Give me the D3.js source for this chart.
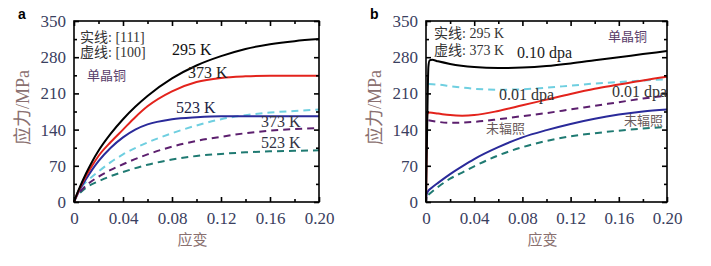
<!DOCTYPE html>
<html>
<head>
<meta charset="utf-8">
<script src="https://cdn.jsdelivr.net/npm/d3@7"></script>
<style>
body { margin: 0; background: #fff; }
</style>
</head>
<body>
<div id="chart-area"></div>
<script>
// strain values (x) and stress values (MPa)
// panel a
var a_black  = [[0,0],[0.0025,16],[0.005,30],[0.01,56],[0.015,79],[0.02,99],[0.03,132],[0.04,160],[0.05,184],[0.06,205],[0.08,239],[0.10,264],[0.12,282],[0.14,296],[0.16,305],[0.18,311],[0.20,315]];
var a_red    = [[0,0],[0.0025,15],[0.005,28],[0.01,51],[0.015,71],[0.02,89],[0.03,116],[0.04,140],[0.05,164],[0.06,185],[0.08,214],[0.10,232],[0.12,240],[0.14,243],[0.16,244],[0.18,244],[0.20,244]];
var a_blue   = [[0,0],[0.0025,13],[0.005,25],[0.01,45],[0.015,63],[0.02,79],[0.03,105],[0.04,125],[0.05,140],[0.06,150],[0.08,160],[0.10,164],[0.12,166],[0.14,166],[0.16,166],[0.18,166],[0.20,166]];
var a_cyan   = [[0.006,30],[0.01,39],[0.02,59],[0.03,77],[0.04,92],[0.06,115],[0.08,133],[0.10,148],[0.12,160],[0.14,168],[0.16,173],[0.18,176],[0.20,179]];
var a_purple = [[0.005,20],[0.01,32],[0.02,49],[0.03,62],[0.04,73],[0.06,92],[0.08,107],[0.10,118],[0.12,126],[0.14,133],[0.16,138],[0.18,141],[0.20,143]];
var a_teal   = [[0.005,18],[0.01,28],[0.02,40],[0.03,50],[0.04,58],[0.06,72],[0.08,82],[0.10,89],[0.12,93],[0.14,96],[0.16,98],[0.18,99],[0.20,100]];
// panel b
var b_black  = [[0,0],[0.001,150],[0.002,262],[0.003,274],[0.005,275],[0.01,272],[0.02,267],[0.04,261],[0.06,259],[0.08,260],[0.10,263],[0.12,268],[0.14,274],[0.16,280],[0.18,286],[0.20,292]];
var b_red    = [[0,0],[0.0005,100],[0.001,170],[0.003,173],[0.01,171],[0.02,168],[0.03,167],[0.04,168],[0.06,176],[0.08,187],[0.10,198],[0.12,209],[0.14,219],[0.16,227],[0.18,235],[0.20,242]];
var b_blue   = [[0,0],[0.0005,15],[0.002,22],[0.005,28],[0.01,37],[0.02,54],[0.03,69],[0.04,83],[0.06,106],[0.08,125],[0.10,139],[0.12,151],[0.14,161],[0.16,169],[0.18,175],[0.20,179]];
var b_cyan   = [[0.002,228],[0.01,227],[0.02,224],[0.04,219],[0.06,217],[0.08,218],[0.10,221],[0.12,225],[0.14,229],[0.16,232],[0.18,235],[0.20,237]];
var b_purple = [[0.002,158],[0.01,155],[0.02,153],[0.04,155],[0.06,160],[0.08,166],[0.10,172],[0.12,179],[0.14,186],[0.16,193],[0.18,200],[0.20,206]];
var b_teal   = [[0.002,14],[0.005,20],[0.01,29],[0.02,45],[0.03,57],[0.04,69],[0.06,90],[0.08,106],[0.10,118],[0.12,127],[0.14,133],[0.16,138],[0.18,142],[0.20,145]];

var xTicks = [0, 0.04, 0.08, 0.12, 0.16, 0.20];
var xMinor = [0.02, 0.06, 0.10, 0.14, 0.18];
var yTicks = [0, 70, 140, 210, 280, 350];
var yMinor = [35, 105, 175, 245, 315];

var SERIF = "'Liberation Serif', 'Noto Sans CJK SC', serif";

var svg = d3.select("#chart-area").append("svg")
    .attr("width", 711)
    .attr("height", 266);

function panel(left, right, letter, series, labels) {
    var top = 21, bottom = 202;
    var x = d3.scaleLinear().domain([0, 0.2]).range([left, right]);
    var y = d3.scaleLinear().domain([0, 350]).range([bottom, top]);
    var g = svg.append("g");
    var line = d3.line()
        .x(function(d) { return x(d[0]); })
        .y(function(d) { return y(d[1]); })
        .curve(d3.curveMonotoneX);

    series.forEach(function(s) {
        g.append("path")
            .attr("d", line(s.data))
            .attr("fill", "none")
            .attr("stroke", s.color)
            .attr("stroke-width", 2)
            .attr("stroke-dasharray", s.dash ? "7,5" : null);
    });

    // inward ticks on all sides
    var fmtX = function(d) { return d == 0 ? "0" : d3.format(".2f")(d); };
    g.append("g").attr("transform", "translate(0," + bottom + ")")
        .call(d3.axisBottom(x).tickValues(xTicks).tickSize(-5).tickPadding(10).tickFormat(fmtX));
    g.append("g").attr("transform", "translate(0," + top + ")")
        .call(d3.axisTop(x).tickValues(xTicks).tickSize(-5).tickFormat(""));
    g.append("g").attr("transform", "translate(" + left + ",0)")
        .call(d3.axisLeft(y).tickValues(yTicks).tickSize(-5).tickPadding(8));
    g.append("g").attr("transform", "translate(" + right + ",0)")
        .call(d3.axisRight(y).tickValues(yTicks).tickSize(-5).tickFormat(""));
    g.append("g").attr("transform", "translate(0," + bottom + ")")
        .call(d3.axisBottom(x).tickValues(xMinor).tickSize(-3).tickFormat(""));
    g.append("g").attr("transform", "translate(0," + top + ")")
        .call(d3.axisTop(x).tickValues(xMinor).tickSize(-3).tickFormat(""));
    g.append("g").attr("transform", "translate(" + left + ",0)")
        .call(d3.axisLeft(y).tickValues(yMinor).tickSize(-3).tickFormat(""));
    g.append("g").attr("transform", "translate(" + right + ",0)")
        .call(d3.axisRight(y).tickValues(yMinor).tickSize(-3).tickFormat(""));
    g.selectAll(".domain").remove();
    g.selectAll("g").attr("font-family", "Liberation Serif").attr("font-size", 17);
    g.selectAll(".tick line").attr("stroke", "#000").attr("stroke-width", 1.6);
    g.selectAll(".tick text")
        .style("font-family", SERIF)
        .style("font-size", "17px")
        .attr("fill", "#3a4060");

    g.append("rect")
        .attr("x", left).attr("y", top)
        .attr("width", right - left).attr("height", bottom - top)
        .attr("fill", "none").attr("stroke", "#000").attr("stroke-width", 1.6);

    g.append("text")
        .attr("transform", "translate(" + (left - 45) + "," + ((top + bottom) / 2 - 4) + ") rotate(-90)")
        .attr("text-anchor", "middle")
        .style("font-family", SERIF)
        .style("font-size", "18px")
        .attr("fill", "#8a7070")
        .text("应力/MPa");
    g.append("text")
        .attr("x", (left + right) / 2 - 4)
        .attr("y", 245)
        .attr("text-anchor", "middle")
        .style("font-family", SERIF)
        .style("font-size", "15px")
        .attr("fill", "#8a7070")
        .text("应变");
    g.append("text")
        .attr("x", left - 56)
        .attr("y", 19)
        .style("font-family", "'Liberation Sans', Arial, sans-serif")
        .style("font-weight", "bold")
        .style("font-size", "14px")
        .attr("fill", "#000")
        .text(letter);

    labels.forEach(function(l) {
        g.append("text")
            .attr("x", l.x).attr("y", l.y)
            .style("font-family", SERIF)
            .style("font-size", l.size + "px")
            .attr("fill", l.color)
            .text(l.text);
    });
}

panel(74, 319, "a", [
    { data: a_teal, color: "#1f7a72", dash: true },
    { data: a_purple, color: "#5c1f6e", dash: true },
    { data: a_cyan, color: "#6fcfe0", dash: true },
    { data: a_blue, color: "#2a2a9a" },
    { data: a_red, color: "#e3231c" },
    { data: a_black, color: "#000000" }
], [
    { x: 80, y: 42, text: "实线: [111]", color: "#333333", size: 14 },
    { x: 80, y: 57, text: "虚线: [100]", color: "#333333", size: 14 },
    { x: 87, y: 80, text: "单晶铜", color: "#5a3e6a", size: 13 },
    { x: 172, y: 55, text: "295 K", color: "#111111", size: 16 },
    { x: 188, y: 78, text: "373 K", color: "#222222", size: 16 },
    { x: 176, y: 113, text: "523 K", color: "#222244", size: 16 },
    { x: 261, y: 127, text: "373 K", color: "#333344", size: 16 },
    { x: 261, y: 148, text: "523 K", color: "#333344", size: 16 }
]);

panel(426, 667, "b", [
    { data: b_teal, color: "#1f7a72", dash: true },
    { data: b_purple, color: "#5c1f6e", dash: true },
    { data: b_cyan, color: "#6fcfe0", dash: true },
    { data: b_blue, color: "#2a2a9a" },
    { data: b_red, color: "#e3231c" },
    { data: b_black, color: "#000000" }
], [
    { x: 434, y: 38, text: "实线: 295 K", color: "#333333", size: 14 },
    { x: 434, y: 55, text: "虚线: 373 K", color: "#333333", size: 14 },
    { x: 608, y: 41, text: "单晶铜", color: "#5a3e6a", size: 13 },
    { x: 517, y: 58, text: "0.10 dpa", color: "#222222", size: 16 },
    { x: 499, y: 100, text: "0.01 dpa", color: "#333333", size: 16 },
    { x: 612, y: 97, text: "0.01 dpa", color: "#333333", size: 16 },
    { x: 486, y: 133, text: "未辐照", color: "#6a5a5a", size: 13 },
    { x: 624, y: 125, text: "未辐照", color: "#6a5a5a", size: 13 }
]);
</script>
</body>
</html>
